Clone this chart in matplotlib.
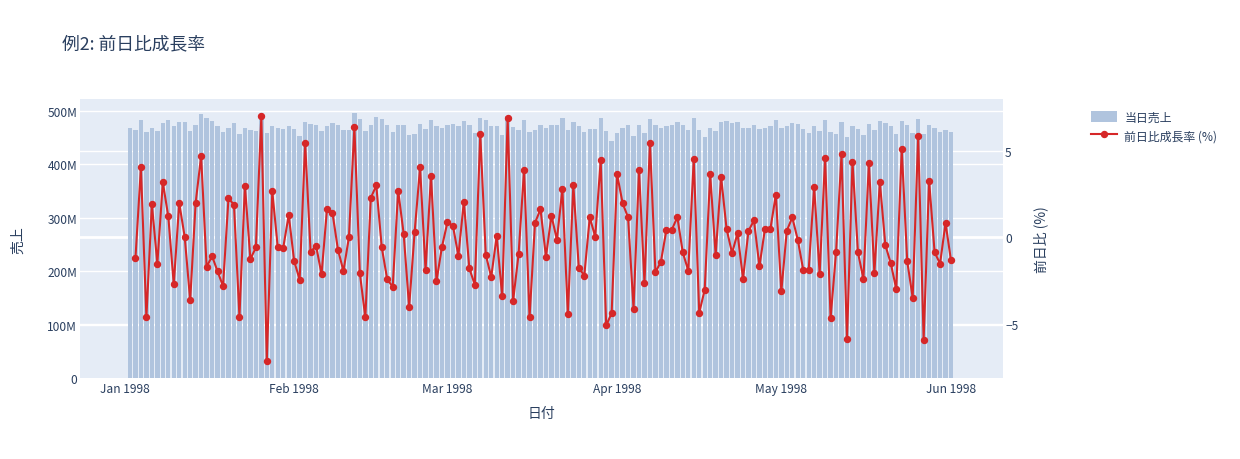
import numpy as np
import pandas as pd
import matplotlib
matplotlib.use("Agg")
import matplotlib.pyplot as plt
import matplotlib.dates as mdates
import matplotlib.transforms as mtransforms
from matplotlib.patches import Patch
from matplotlib.lines import Line2D
from matplotlib.ticker import FixedLocator, FuncFormatter

plt.rcParams['font.family'] = ['Noto Sans CJK JP', 'DejaVu Sans']

# daily sales (millions), 1998-01-02 .. 1998-06-01
sales = [469, 464, 483, 461, 469, 463, 478, 484, 471, 480, 480, 463, 473, 495, 487, 482, 471, 460, 469, 478, 457, 469,
         464, 462, 493, 459, 471, 468, 466, 472, 466, 454, 480, 476, 474, 463, 471, 478, 474, 464, 465, 496, 485, 463,
         474, 488, 485, 474,
         461, 473, 474, 456, 457, 476, 466, 483, 471, 468, 473, 476, 471, 481, 473, 459, 487, 483, 471, 471, 456, 490,
         470, 464, 483, 461,
         465, 473, 468, 474, 473, 487, 464, 479, 471, 460, 466, 466, 487, 462, 443, 459, 468, 474, 454, 473, 459, 485,
         474, 468, 471,
         473, 479, 474, 465, 487, 464, 452, 468, 463, 480, 482, 478, 480, 468, 469, 474, 466, 469, 471, 483, 468, 471,
         477, 476, 466, 458,
         471, 462, 483, 460, 457, 479, 451, 471, 466, 455, 475, 465, 481, 478, 471, 457, 481, 474, 459, 485, 457, 473,
         468, 461, 464, 460]

# day-over-day growth (%), from 1998-01-03
growth = [-1.21, 4.04, -4.62, 1.92, -1.52, 3.17, 1.21, -2.71, 1.98, 0.02, -3.63, 2.0, 4.69, -1.71, -1.08, -1.96,
          -2.81, 2.27, 1.87, -4.58, 2.98, -1.26,
          -0.58, 6.98, -7.13, 2.65, -0.58, -0.6, 1.29, -1.37, -2.44, 5.46, -0.85, -0.48, -2.13, 1.65, 1.40, -0.71,
          -1.94, 0.0, 6.38, -2.08, -4.62, 2.27, 3.0, -0.58, -2.42,
          -2.85, 2.69, 0.21, -4.02, 0.29, 4.04, -1.90, 3.56, -2.52, -0.54, 0.87, 0.67, -1.06, 2.06, -1.79, -2.73,
          5.96, -1.0, -2.29, 0.08, -3.40, 6.88, -3.65, -0.96, 3.90, -4.62,
          0.83, 1.63, -1.12, 1.25, -0.13, 2.79, -4.44, 3.02, -1.75, -2.21, 1.15, 0.04, 4.46, -5.08, -4.37, 3.63,
          1.98, 1.15, -4.12, 3.90, -2.65, 5.46, -2.02, -1.40, 0.42,
          0.44, 1.17, -0.87, -1.92, 4.52, -4.35, -3.02, 3.63, -1.02, 3.48, 0.48, -0.90, 0.23, -2.38, 0.37, 0.98,
          -1.67, 0.46, 0.48, 2.46, -3.12, 0.38, 1.15, -0.13, -1.87, -1.88,
          2.90, -2.10, 4.58, -4.67, -0.85, 4.79, -5.88, 4.37, -0.87, -2.40, 4.29, -2.06, 3.19, -0.44, -1.50, -2.98,
          5.08, -1.37, -3.48, 5.85, -5.92, 3.27, -0.85, -1.52, 0.83, -1.33]

dates = pd.date_range('1998-01-02', periods=len(sales), freq='D')
growth_dates = dates[1:]

month_ticks = pd.to_datetime(['1998-01-01', '1998-02-01', '1998-03-01', '1998-04-01', '1998-05-01', '1998-06-01'])
sales_ticks = [0, 100, 200, 300, 400, 500]
growth_ticks = [-5, 0, 5]

TXT = '#2a3f5f'
BG = '#E5ECF6'
BAR = '#B0C4DE'
LINE = '#d62728'

W, H = 1240, 460
fig = plt.figure(figsize=(W / 100, H / 100), dpi=100)
L, R, T, B = 80, 1003, 100, 379
ax = fig.add_axes([L / W, 1 - B / H, (R - L) / W, (B - T) / H])
ax.set_facecolor(BG)
ax2 = ax.twinx()
ax2.patch.set_visible(False)
ax.set_zorder(0)
ax2.set_zorder(1)

t0 = pd.Timestamp('1998-01-01')
ax.set_xlim(mdates.date2num(t0) - 8.13, mdates.date2num(t0) + 160.5)
ax.set_ylim(0, 522.5)
ax2.set_ylim(-8.11, 7.98)

# grid lines (all behind the bars)
for v in sales_ticks[1:]:
    ax.axhline(v, color='white', lw=1, zorder=0.5)
blend = mtransforms.blended_transform_factory(ax.transAxes, ax2.transData)
for v in growth_ticks:
    ax.add_line(Line2D([0, 1], [v, v], transform=blend, color='white', lw=2 if v == 0 else 1, zorder=0.6))

ax.bar(dates, sales, width=0.8, color=BAR, zorder=1)
ax2.plot(growth_dates, growth, color=LINE, lw=1.5, marker='o', ms=4.3, zorder=3)

for a in (ax, ax2):
    for s in a.spines.values():
        s.set_visible(False)

ax.xaxis.set_major_locator(FixedLocator(mdates.date2num(month_ticks)))
ax.xaxis.set_major_formatter(mdates.DateFormatter('%b %Y'))
ax.yaxis.set_major_locator(FixedLocator(sales_ticks))
ax.yaxis.set_major_formatter(FuncFormatter(lambda v, p: '0' if v == 0 else f'{int(v)}M'))
ax2.yaxis.set_major_locator(FixedLocator(growth_ticks))
ax2.yaxis.set_major_formatter(FuncFormatter(lambda v, p: f'{int(v)}'.replace('-', '\u2212')))

ax.tick_params(axis='x', length=0, pad=3, labelsize=8.6, labelcolor=TXT)
ax.tick_params(axis='y', length=0, pad=2, labelsize=8.6, labelcolor=TXT)
ax2.tick_params(axis='y', length=0, pad=1.5, labelsize=8.6, labelcolor=TXT)

fig.text(62 / W, 1 - 44 / H, '例2: 前日比成長率', fontsize=12.8, color=TXT, va='center', ha='left')
fig.text(541 / W, 1 - 414 / H, '日付', fontsize=10, color=TXT, va='center', ha='center')
fig.text(18 / W, 1 - 240 / H, '売上', fontsize=10, color=TXT, va='center', ha='center', rotation=90)
fig.text(1041 / W, 1 - 240 / H, '前日比 (%)', fontsize=10, color=TXT, va='center', ha='center', rotation=90)

handles = [Patch(facecolor=BAR, edgecolor='none'),
           Line2D([0], [0], color=LINE, lw=1.5, marker='o', ms=4.3)]
fig.legend(handles, ['当日売上', '前日比成長率 (%)'], loc='upper left',
           bbox_to_anchor=(1080 / W, 1 - 101 / H), frameon=False, fontsize=8.6,
           labelcolor=TXT, handlelength=2.2, handleheight=1.0, handletextpad=0.6, labelspacing=0.45)

fig.savefig('out.png', dpi=100, facecolor='white')
